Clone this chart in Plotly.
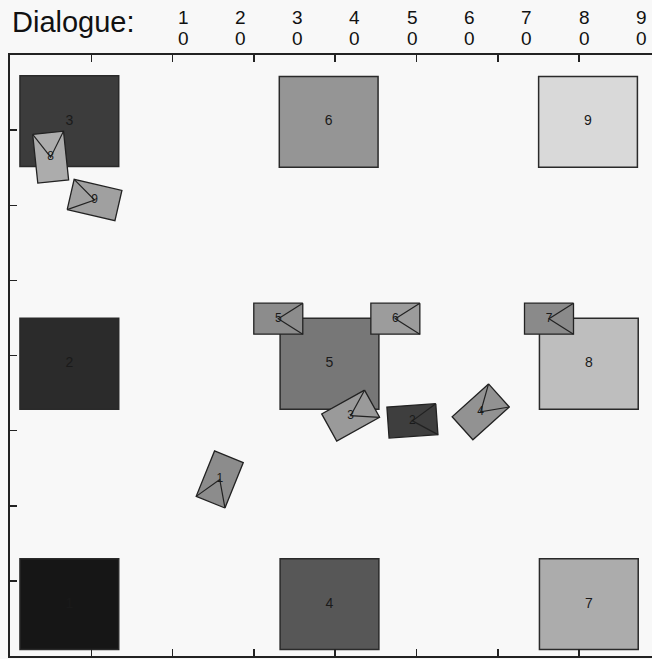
import numpy as np
import plotly.graph_objects as go

# ---------------- data ----------------
# target squares (grid of 9 regions)
square_labels = ["1", "2", "3", "4", "5", "6", "7", "8", "9"]
square_x = [0.73, 0.73, 0.73, 3.93, 3.93, 3.92, 7.12, 7.12, 7.11]
square_y = [0.69, 3.89, 7.12, 0.69, 3.89, 7.11, 0.69, 3.89, 7.11]
square_gray = ["#161616", "#2b2b2b", "#3c3c3c", "#575757", "#777777",
               "#959595", "#acacac", "#bebebe", "#d9d9d9"]

# agents (envelope markers): centre, heading of the folded side (deg), shade
agent_labels = ["1", "2", "3", "4", "5", "6", "7", "8", "9"]
agent_x = [2.58, 4.95, 4.19, 5.79, 3.30, 4.74, 6.63, 0.50, 1.04]
agent_y = [2.35, 3.13, 3.20, 3.25, 4.49, 4.49, 4.49, 6.64, 6.07]
agent_heading = [248, 4, 29, 42, 0, 0, 0, 96, 167]
agent_gray = ["#8c8c8c", "#3e3e3e", "#9a9a9a", "#929292", "#8c8c8c",
              "#9c9c9c", "#8a8a8a", "#acacac", "#a0a0a0"]

# header
header_title = "Dialogue:"
dialogue_ids = ["10", "20", "30", "40", "50", "60", "70", "80", "90"]

tick_vals = [1, 2, 3, 4, 5, 6, 7]

# ---------------- layout constants ----------------
W, H = 652, 659
ML, MT, MB, MR = 10, 55, 3, 0
XMAX, YMAX = 7.897, 8.0
plot_w = W - ML - MR
plot_h = H - MT - MB
ppx = plot_w / XMAX   # pixels per x unit
ppy = plot_h / YMAX   # pixels per y unit

SQ = 1.215            # square side (data units)
AG_L, AG_W = 49, 31   # agent rectangle size in pixels

fig = go.Figure()

# squares
for lab, cx, cy, col in zip(square_labels, square_x, square_y, square_gray):
    fig.add_shape(type="rect", xref="x", yref="y",
                  x0=cx - SQ / 2, x1=cx + SQ / 2, y0=cy - SQ / 2 * 0.995, y1=cy + SQ / 2 * 0.995,
                  fillcolor=col, line=dict(color="#2a2a2a", width=1.5), layer="below")

fig.add_trace(go.Scatter(x=square_x, y=square_y, mode="text", text=square_labels,
                         textfont=dict(family="Liberation Sans, Arial", size=14, color="#1a1a1a"),
                         hoverinfo="skip", showlegend=False))

# agents
for lab, cx, cy, hd, col in zip(agent_labels, agent_x, agent_y, agent_heading, agent_gray):
    t = np.deg2rad(hd)
    u = np.array([np.cos(t), np.sin(t)])
    v = np.array([-np.sin(t), np.cos(t)])
    offs = [ AG_L / 2 * u + AG_W / 2 * v,
            -AG_L / 2 * u + AG_W / 2 * v,
            -AG_L / 2 * u - AG_W / 2 * v,
             AG_L / 2 * u - AG_W / 2 * v]
    xs = [cx + o[0] / ppx for o in offs] + [cx + offs[0][0] / ppx]
    ys = [cy + o[1] / ppy for o in offs] + [cy + offs[0][1] / ppy]
    fig.add_trace(go.Scatter(x=xs, y=ys, mode="lines", fill="toself", fillcolor=col,
                             line=dict(color="#222222", width=1.3),
                             hoverinfo="skip", showlegend=False))
    # folded flap (V from the two corners of the heading side to the centre)
    fx = [xs[0], cx, xs[3]]
    fy = [ys[0], cy, ys[3]]
    fig.add_trace(go.Scatter(x=fx, y=fy, mode="lines",
                             line=dict(color="#222222", width=1.2),
                             hoverinfo="skip", showlegend=False))

fig.add_trace(go.Scatter(x=agent_x, y=agent_y, mode="text", text=agent_labels,
                         textfont=dict(family="Liberation Sans, Arial", size=12, color="#1a1a1a"),
                         hoverinfo="skip", showlegend=False))

# header annotations (vertical positions given in pixels from the top)
def paper_y(py):
    return 1 + (MT - py) / plot_h

fig.add_annotation(xref="paper", yref="paper", x=0, y=paper_y(22),
                   xanchor="left", yanchor="middle", text=header_title, showarrow=False,
                   font=dict(family="Liberation Sans, Arial", size=29, color="#111111"))
hx0, hstep = (183 - ML) / ppx, 57.3 / ppx
for i, d in enumerate(dialogue_ids):
    for r, ch in enumerate(d):
        fig.add_annotation(xref="x", yref="paper", x=hx0 + i * hstep,
                           y=paper_y(17 + 21.5 * r),
                           xanchor="center", yanchor="middle", text=ch, showarrow=False,
                           font=dict(family="Liberation Sans, Arial", size=19, color="#111111"))

axis_common = dict(showgrid=False, zeroline=False, showticklabels=False,
                   ticks="inside", ticklen=7, tickwidth=1.5, tickcolor="#222222",
                   showline=True, linecolor="#222222", linewidth=1.6,
                   tickvals=tick_vals, fixedrange=True)

fig.update_layout(
    width=W, height=H,
    margin=dict(l=ML, r=MR, t=MT, b=MB),
    paper_bgcolor="#f8f8f8", plot_bgcolor="#f8f8f8",
    xaxis=dict(range=[0, XMAX], mirror="ticks", **axis_common),
    yaxis=dict(range=[0, YMAX], mirror=False, **axis_common),
    showlegend=False,
)

fig.write_html("out.html",
               config={"displayModeBar": False, "staticPlot": True},
               post_script="document.body.style.margin='0px';document.body.style.overflow='hidden';")
